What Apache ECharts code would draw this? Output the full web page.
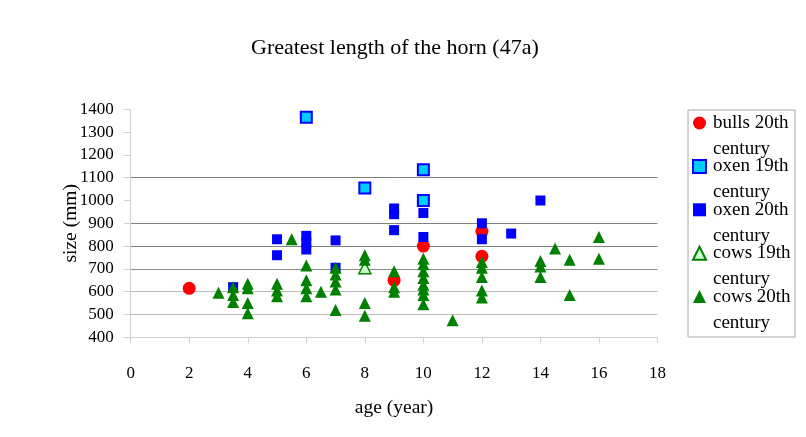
<!DOCTYPE html>
<html>
<head>
<meta charset="utf-8">
<script src="https://cdn.jsdelivr.net/npm/echarts@6/dist/echarts.min.js"></script>
<style>html,body{margin:0;padding:0;background:#fff}#c{width:806px;height:437px}</style>
</head>
<body>
<div id="c"></div>
<script>
var seriesNames = ['bulls 20th century', 'oxen 19th century', 'oxen 20th century', 'cows 19th century', 'cows 20th century'];
var xTicks = [0, 2, 4, 6, 8, 10, 12, 14, 16, 18];
var yTicks = [400, 500, 600, 700, 800, 900, 1000, 1100, 1200, 1300, 1400];

var bulls20 = [[2,615],[9,650],[10,800],[12,865],[12,755]];
var oxen19 = [[6,1365],[8,1055],[10,1135],[10,1000]];
var oxen20 = [[3.5,620],[5,830],[5,760],[6,845],[6,815],[6,785],[7,825],[7,705],
  [9,965],[9,940],[9,870],[10,945],[10,840],[12,900],[12,830],[13,855],[14,1000]];
var cows19 = [[8,705]];
var cows20 = [[3,595],[3.5,620],[3.5,585],[3.5,555],[4,635],[4,615],[4,550],[4,505],
  [5,635],[5,605],[5,580],[5.5,830],[6,715],[6,650],[6,615],[6,580],[6.5,600],
  [7,705],[7,675],[7,645],[7,610],[7,520],[8,760],[8,740],[8,550],[8,495],
  [9,690],[9,620],[9,600],[10,745],[10,720],[10,690],[10,660],[10,630],[10,610],[10,585],[10,545],
  [11,475],[12,730],[12,705],[12,665],[12,605],[12,575],[14,735],[14,710],[14,665],
  [14.5,790],[15,740],[15,585],[16,840],[16,745]];

var FONT = 'Liberation Serif';
// split-line colours per y tick (400..1400)
var gridColors = ['#d4d4d4','#bdbdbd','#bdbdbd','#8a8a8a','#808080','#808080','rgba(0,0,0,0)','#808080','rgba(0,0,0,0)','rgba(0,0,0,0)','rgba(0,0,0,0)'];

var chart = echarts.init(document.getElementById('c'), null, {renderer: 'canvas'});
chart.setOption({
  animation: false,
  backgroundColor: '#ffffff',
  title: {
    text: 'Greatest length of the horn (47a)',
    left: 246, top: 32,
    textStyle: {fontFamily: FONT, fontSize: 22, fontWeight: 'normal', color: '#000'}
  },
  grid: {left: 130.7, right: 148.5, top: 109.3, bottom: 99.7, containLabel: false},
  xAxis: {
    type: 'value', min: xTicks[0], max: xTicks[xTicks.length - 1], interval: 2,
    name: 'age (year)', nameLocation: 'middle', nameGap: 61, nameMoveOverlap: false,
    nameTextStyle: {fontFamily: FONT, fontSize: 19.5, color: '#000'},
    axisLine: {show: true, lineStyle: {color: '#d0d0d0', width: 1}},
    axisTick: {show: true, length: 6, lineStyle: {color: '#d0d0d0'}},
    axisLabel: {margin: 28, fontFamily: FONT, fontSize: 17, color: '#000',
      formatter: function (v) { return String(v); }},
    splitLine: {show: false}
  },
  yAxis: {
    type: 'value', min: yTicks[0], max: yTicks[yTicks.length - 1], interval: 100,
    name: 'size (mm)', nameLocation: 'middle', nameGap: 50, nameRotate: 90, nameMoveOverlap: false,
    nameTextStyle: {fontFamily: FONT, fontSize: 19.5, color: '#000'},
    axisLine: {show: true, lineStyle: {color: '#d0d0d0', width: 1}},
    axisTick: {show: true, length: 7, lineStyle: {color: '#d0d0d0'}},
    axisLabel: {margin: 17, fontFamily: FONT, fontSize: 17, color: '#000',
      formatter: function (v) { return String(v); }},
    splitLine: {show: true, lineStyle: {color: gridColors, width: 1}}
  },
  legend: {
    orient: 'vertical', left: 692, top: 84, padding: 0, itemGap: -34.6,
    itemWidth: 13, itemHeight: 13,
    data: seriesNames,
    formatter: function (n) { return '\n' + n.replace(' century', '\ncentury'); },
    textStyle: {fontFamily: FONT, fontSize: 19, color: '#000', lineHeight: 26, padding: [0, 0, 0, 2]}
  },
  graphic: [{
    type: 'rect', left: 685.5, top: 107.5, silent: true,
    shape: {width: 107, height: 227},
    style: {fill: 'none', stroke: '#a8a8a8', lineWidth: 1}
  }],
  series: [
    {name: seriesNames[0], type: 'scatter', data: bulls20, symbol: 'circle', symbolSize: 13,
     itemStyle: {color: '#ff0000', opacity: 1}},
    {name: seriesNames[1], type: 'scatter', data: oxen19, symbol: 'rect', symbolSize: 11,
     itemStyle: {color: '#00ccff', borderColor: '#0000ff', borderWidth: 2, opacity: 1}},
    {name: seriesNames[2], type: 'scatter', data: oxen20, symbol: 'rect', symbolSize: 10,
     itemStyle: {color: '#0000ff', opacity: 1}},
    {name: seriesNames[3], type: 'scatter', data: cows19, symbol: 'triangle', symbolSize: 12,
     itemStyle: {color: '#ccffcc', borderColor: '#008000', borderWidth: 1.5, opacity: 1}},
    {name: seriesNames[4], type: 'scatter', data: cows20, symbol: 'triangle', symbolSize: 12,
     itemStyle: {color: '#008000', opacity: 1}}
  ]
});
</script>
</body>
</html>
